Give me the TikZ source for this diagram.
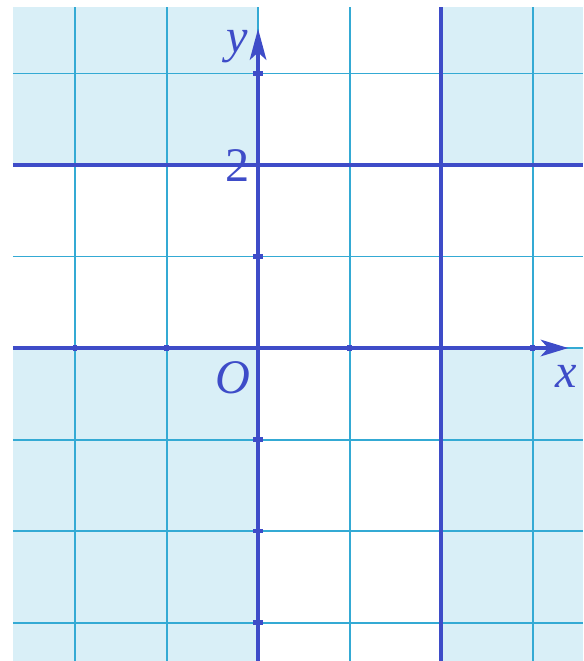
\documentclass[tikz,border=0pt]{standalone}
\usepackage{fontspec}
\setmainfont{Liberation Serif}
\usetikzlibrary{arrows.meta}
\definecolor{axisblue}{RGB}{62,76,200}
\definecolor{gridcyan}{RGB}{52,170,212}
\definecolor{paleblue}{RGB}{217,239,247}
\newcommand{\xl}{-2.68}
\newcommand{\xr}{3.552}
\newcommand{\yb}{-3.42}
\newcommand{\yt}{3.727}

\begin{document}
\begin{tikzpicture}
\useasboundingbox (-2.82,-3.42) rectangle (3.552,3.803);
\coordinate (o) at (0,0);
\coordinate (sw) at (\xl,\yb);
\coordinate (ne) at (\xr,\yt);
\coordinate (xend) at (3.39,0);
\coordinate (yend) at (0,3.49);

\fill[paleblue] (sw) rectangle (o);
\fill[paleblue] (2,\yb) rectangle (\xr,0);
\fill[paleblue] (\xl,2) rectangle (0,\yt);
\fill[paleblue] (2,2) rectangle (ne);

\foreach \k in {-2,...,3}{
\draw[gridcyan,line width=0.6pt] (\k,\yb) -- (\k,\yt);
}
\foreach \k in {-3,...,3}{
\draw[gridcyan,line width=0.6pt] (\xl,\k) -- (\xr,\k);
}

\draw[axisblue,line width=1.2pt] (\xl,2) -- (\xr,2);
\draw[axisblue,line width=1.2pt] (2,\yb) -- (2,\yt);
\draw[axisblue,line width=1.2pt,-{Stealth[length=3mm,width=1.8mm,inset=0.8mm]}] (\xl,0) -- (xend);
\draw[axisblue,line width=1.2pt,-{Stealth[length=3.4mm,width=1.8mm,inset=0.8mm]}] (0,\yb) -- (yend);

\foreach \h in {-2,-1,1,3}{
\draw[axisblue,line width=1.4pt] (\h,-0.035) -- (\h,0.035);
}
\foreach \h in {-3,-2,-1,1,3}{
\draw[axisblue,line width=1.4pt] (-0.05,\h) -- (0.05,\h);
}

\node[text=axisblue,font=\fontsize{15}{18}\selectfont\itshape] (ylab) at (-0.23,3.29) {y};
\node[text=axisblue,font=\fontsize{15}{18}\selectfont\itshape] (xlab) at (3.37,-0.31) {x};
\node[text=axisblue,font=\fontsize{15}{18}\selectfont\itshape] (olab) at (-0.28,-0.33) {O};
\node[text=axisblue,font=\fontsize{15}{18}\selectfont] (twolab) at (-0.22,1.99) {2};
\end{tikzpicture}
\end{document}
